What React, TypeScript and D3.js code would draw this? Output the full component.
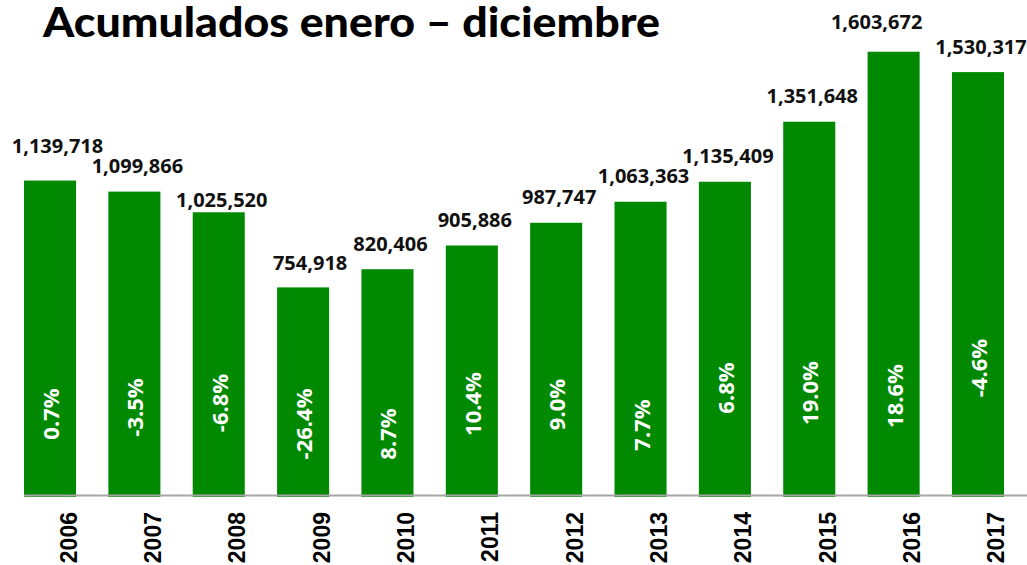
import React, { useEffect } from 'react';
import * as d3 from 'd3';

const years = ['2006', '2007', '2008', '2009', '2010', '2011', '2012', '2013', '2014', '2015', '2016', '2017'];
const totals = [1139718, 1099866, 1025520, 754918, 820406, 905886, 987747, 1063363, 1135409, 1351648, 1603672, 1530317];
const changes = [0.7, -3.5, -6.8, -26.4, 8.7, 10.4, 9.0, 7.7, 6.8, 19.0, 18.6, -4.6];
const title = 'Acumulados enero – diciembre';

// label layout tweaks (manual placement in the original)
const valueNudgeX = [4.5, 0, 0, 4, 0, 0, 0, 0, 0, 0, -20, 0];
const valueNudgeY = [-9.5, 0, 13.5, 1.5, 0, 0, 0, 0, 0, 0, -4.5, 0];
const pctNudgeY = [9, 2.5, -2, 19, 29, -1, -0.5, 20, -17, -12, -9, -37];

const W = 1027;
const H = 565;
const GREEN = '#018a01';

export default function App() {
  useEffect(() => {
    document.body.style.margin = '0';
  }, []);

  const x = d3.scaleBand<string>().domain(years).range([24, 1004]).paddingInner(0.383).paddingOuter(0);
  const y = d3.scaleLinear().domain([0, 1790000]).range([497, 0]);
  const fmt = d3.format(',');
  const bw = x.bandwidth();

  return (
    <svg width={W} height={H} style={{ display: 'block', background: '#fff' }}>
      <text
        x={43}
        y={37}
        fontFamily="Lato, 'Open Sans', sans-serif"
        fontWeight={900}
        fontSize={41}
        fill="#000"
        textLength={617}
        lengthAdjust="spacingAndGlyphs"
      >
        {title}
      </text>

      {years.map((yr, i) => {
        const x0 = x(yr)!;
        const cx = x0 + bw / 2;
        const top = y(totals[i]);
        return (
          <g key={yr}>
            <rect x={x0} y={top} width={bw} height={y(0) - top} fill={GREEN} />
            <text
              x={cx + 3 + valueNudgeX[i]}
              y={top - 18.5 + valueNudgeY[i]}
              textAnchor="middle"
              fontFamily="'Open Sans', sans-serif"
              fontWeight={700}
              fontSize={20}
              fill="#111"
            >
              {fmt(totals[i])}
            </text>
            <text
              transform={`translate(${cx},${405 + pctNudgeY[i]}) rotate(-90)`}
              textAnchor="middle"
              dominantBaseline="central"
              fontFamily="'Open Sans', sans-serif"
              fontWeight={700}
              fontSize={22}
              fill="#fff"
            >
              {changes[i].toFixed(1) + '%'}
            </text>
            <text
              transform={`translate(${cx + 18.5},512) rotate(-90)`}
              textAnchor="end"
              dominantBaseline="central"
              fontFamily="'Liberation Sans', Arial, sans-serif"
              fontWeight={700}
              fontSize={23}
              fill="#000"
            >
              {yr}
            </text>
          </g>
        );
      })}

      <line x1={24} x2={W} y1={495.5} y2={495.5} stroke="#a6a6a6" strokeWidth={2} />
    </svg>
  );
}
